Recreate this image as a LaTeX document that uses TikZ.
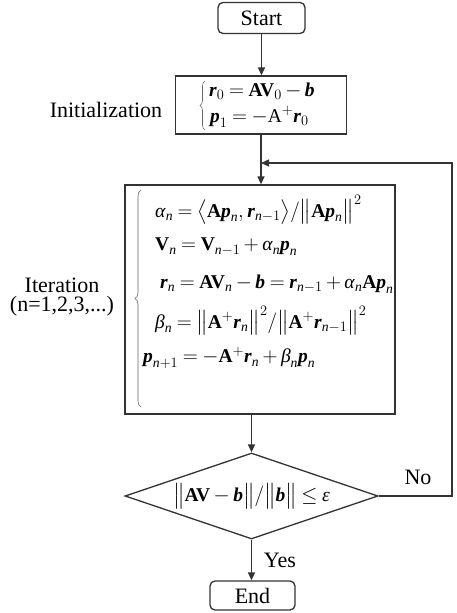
\documentclass[tikz,border=0pt]{standalone}
\usepackage{amsmath}
\usepackage{fontspec}
\setmainfont{Liberation Serif}
\usetikzlibrary{shapes.geometric,arrows.meta,decorations.pathreplacing}
\newcommand\bv[1]{\text{\bfseries\itshape #1\/}}
\newcommand\bM[1]{\text{\bfseries #1}}
\newcommand\ti[1]{\text{\itshape #1\/}}
\newcommand\tu[1]{\text{#1}}
\thickmuskip=4mu plus 2mu
\medmuskip=3mu plus 1mu
\begin{document}
\begin{tikzpicture}[x=1pt,y=-1pt,
  every node/.style={font=\fontsize{22}{26}\selectfont, text=black},
  ln/.style={line width=1.3pt, draw=black!80},
  arr/.style={ln, -{Triangle[length=8pt,width=7pt]}},
  term/.style={ln, rounded corners=5pt, minimum width=87pt, minimum height=31pt, inner sep=0pt},
  proc/.style={ln, inner sep=0pt},
  eq/.style={anchor=west, inner sep=0pt, font=\fontsize{19.5}{23}\selectfont},
  brc/.style={decorate, line width=0.6pt, draw=black!60},
]
\useasboundingbox (0,0) rectangle (457,613);
% terminals
\node[term] (start) at (261.5,18) {Start};
\node[term, minimum width=85pt, minimum height=29pt] (end) at (252.5,595.5) {End};
% boxes
\node[proc, minimum width=171pt, minimum height=58pt] (init) at (261,105) {};
\node[proc, minimum width=270pt, minimum height=229pt] (iter) at (260,299.5) {};
\node[ln, shape=diamond, shape aspect=2.94, minimum width=253pt, minimum height=86pt, inner sep=0pt,
  font=\fontsize{19.5}{23}\selectfont] (dec) at (251.5,496)
  {$\big\|\bM{AV}-\bv{b}\big\|/\big\|\bv{b}\big\|\le\ti{ε}$};
% init equations
\node[eq] (r0) at (209,91) {$\bv{r}_{0}=\bM{AV}_{0}-\bv{b}$};
\node[eq] (p1) at (210,117) {$\bv{p}_{1}=-\tu{A}^{+}\bv{r}_{0}$};
\draw[brc, decoration={brace, amplitude=5pt}] (205,130) -- (205,81);
% iteration equations
\node[eq] (ea) at (155,210) {$\ti{α}_{\ti{n}}=\big\langle \bM{A}\bv{p}_{\ti{n}},\bv{r}_{\ti{n}-1}\big\rangle/\big\|\bM{A}\bv{p}_{\ti{n}}\big\|^{2}$};
\node[eq] (ev) at (155,247) {$\bM{V}_{\ti{n}}=\bM{V}_{\ti{n}-1}+\ti{α}_{\ti{n}}\bv{p}_{\ti{n}}$};
\node[eq] (er) at (160,284) {$\bv{r}_{\ti{n}}=\bM{AV}_{\ti{n}}-\bv{b}=\bv{r}_{\ti{n}-1}+\ti{α}_{\ti{n}}\bM{A}\bv{p}_{\ti{n}}$};
\node[eq] (eb) at (155,321) {$\ti{β}_{\ti{n}}=\big\|\bM{A}^{+}\bv{r}_{\ti{n}}\big\|^{2}/\big\|\bM{A}^{+}\bv{r}_{\ti{n}-1}\big\|^{2}$};
\node[eq] (ep) at (143,358) {$\bv{p}_{\ti{n}+1}=-\bM{A}^{+}\bv{r}_{\ti{n}}+\ti{β}_{\ti{n}}\bv{p}_{\ti{n}}$};
\draw[brc, decoration={brace, amplitude=6pt}] (141,407) -- (141,190);
% labels
\node (initlbl) at (106,110) {Initialization};
\node[align=center, font=\fontsize{22}{19}\selectfont] (iterlbl) at (62,297) {Iteration\\(n=1,2,3,...)};
\node (yes) at (280,560) {Yes};
\node (no) at (418,477) {No};
% connectors
\coordinate (loopc) at (452,163);
\draw[arr] (start.south) -- (start.south |- init.north);
\draw[arr] (init.south) -- (init.south |- iter.north);
\draw[arr] (dec.east) -- (dec.east -| loopc) -- (loopc) -- (loopc -| init.south);
\draw[arr] (iter.south -| dec.center) -- (dec.north);
\draw[arr] (dec.south) -- (dec.south |- end.north);
\end{tikzpicture}
\end{document}
